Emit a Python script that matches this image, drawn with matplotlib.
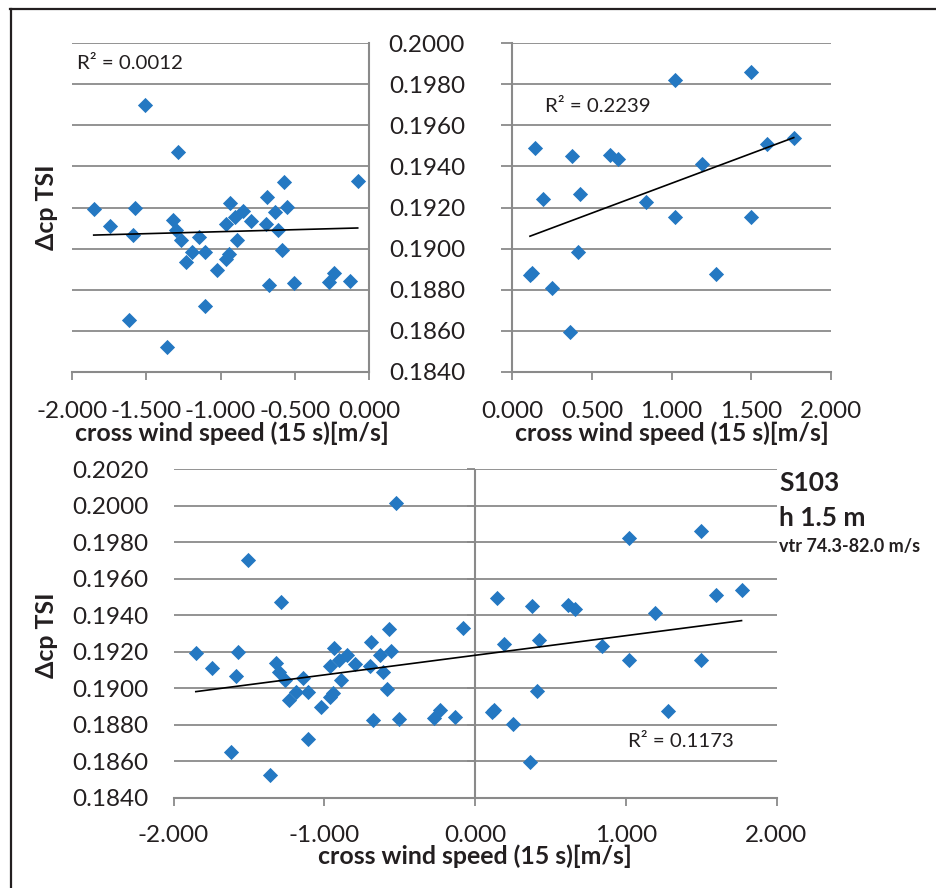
import numpy as np
import matplotlib
matplotlib.use('Agg')
import matplotlib.pyplot as plt
from matplotlib.lines import Line2D

# ---------------- data ----------------
neg_x = [-1.852, -1.742, -1.574, -1.586, -1.505, -1.617, -1.286, -1.317, -1.301,
         -1.263, -1.234, -1.189, -1.144, -1.106, -1.106, -1.359, -1.021, -0.963,
         -0.941, -0.963, -0.936, -0.903, -0.891, -0.851, -0.793, -0.690, -0.695,
         -0.677, -0.632, -0.572, -0.555, -0.612, -0.586, -0.505, -0.271, -0.235,
         -0.132, -0.078, -0.523]
neg_y = [0.19191, 0.19110, 0.19199, 0.19064, 0.19701, 0.18652, 0.19470, 0.19139, 0.19090,
         0.19042, 0.18933, 0.18981, 0.19055, 0.18981, 0.18720, 0.18522, 0.18895, 0.18949,
         0.18973, 0.19120, 0.19222, 0.19155, 0.19042, 0.19183, 0.19134, 0.19253, 0.19120,
         0.18824, 0.19180, 0.19326, 0.19201, 0.19090, 0.18993, 0.18830, 0.18837, 0.18882,
         0.18840, 0.19331, 0.20012]

pos_x = [0.111, 0.126, 0.145, 0.193, 0.249, 0.362, 0.375, 0.413, 0.427, 0.614,
         0.662, 0.840, 1.020, 1.024, 1.194, 1.277, 1.499, 1.502, 1.598, 1.768]
pos_y = [0.18869, 0.18882, 0.19492, 0.19241, 0.18806, 0.18595, 0.19451, 0.18983, 0.19266, 0.19456,
         0.19436, 0.19228, 0.19152, 0.19821, 0.19412, 0.18874, 0.19859, 0.19154, 0.19508, 0.19539]

xticks_neg = [-2.0, -1.5, -1.0, -0.5, 0.0]
xticks_pos = [0.0, 0.5, 1.0, 1.5, 2.0]
xticks_all = [-2.0, -1.0, 0.0, 1.0, 2.0]
yticks_top = [0.1840, 0.1860, 0.1880, 0.1900, 0.1920, 0.1940, 0.1960, 0.1980, 0.2000]
yticks_all = [0.1840, 0.1860, 0.1880, 0.1900, 0.1920, 0.1940, 0.1960, 0.1980, 0.2000, 0.2020]

r2_labels = ["R\u00b2 = 0.0012", "R\u00b2 = 0.2239", "R\u00b2 = 0.1173"]
xlabel = "cross wind speed (15 s)[m/s]"
ylabel = "\u0394cp TSI"
side_title = ["S103", "h 1.5 m", "vtr 74.3-82.0 m/s"]

# ---------------- style ----------------
FONT = ['Lato', 'DejaVu Sans']
plt.rcParams['font.family'] = FONT
TXT = '#231F20'
GRID = '#8A8A8A'
BLUE = '#2478C2'
TICK_FS = 17.5
LAB_FS = 17.9

W, H = 936, 888
fig = plt.figure(figsize=(W / 100, H / 100), dpi=100)


def box(l, t, r, b):
    return [l / W, 1 - b / H, (r - l) / W, (b - t) / H]


def base_style(ax, xlim, ylim, xt, yt, xpad):
    ax.set_xlim(*xlim)
    ax.set_ylim(*ylim)
    ax.set_xticks(xt)
    ax.set_xticklabels(["%.3f" % v for v in xt])
    ax.set_yticks(yt)
    ax.set_yticklabels(["%.4f" % v for v in yt])
    ax.grid(axis='y', color=GRID, lw=1.3)
    ax.grid(axis='x', visible=False)
    ax.set_axisbelow(True)
    for s in ax.spines.values():
        s.set_visible(False)
    ax.spines['bottom'].set_visible(True)
    ax.spines['bottom'].set_color(GRID)
    ax.spines['bottom'].set_linewidth(1.5)
    ax.tick_params(axis='x', direction='out', length=6, width=1.3, color=GRID,
                   pad=xpad, labelsize=TICK_FS, labelcolor=TXT)
    ax.tick_params(axis='y', labelsize=TICK_FS, labelcolor=TXT)
    ax.patch.set_alpha(0)


def scatter_trend(ax, x, y):
    # Excel-style: the trend line uses every point of the series,
    # points outside the value axis range are not drawn
    x = np.asarray(x)
    y = np.asarray(y)
    p = np.polyfit(x, y, 1)
    xs = np.array([x.min(), x.max()])
    lo, hi = ax.get_ylim()
    m = (y >= lo) & (y <= hi)
    ax.scatter(x[m], y[m], marker='D', s=60, color=BLUE, linewidths=0, zorder=3)
    ax.plot(xs, np.polyval(p, xs), color='black', lw=1.2, zorder=4)


# ---- top-left: negative cross wind ----
ax1 = fig.add_axes(box(71.7, 43.3, 369.3, 371.7))
base_style(ax1, (-2.0, 0.0), (0.1840, 0.2000), xticks_neg, yticks_top, 15)
ax1.spines['right'].set_visible(True)
ax1.spines['right'].set_color(GRID)
ax1.spines['right'].set_linewidth(1.5)
ax1.tick_params(axis='y', left=False, labelleft=False)
scatter_trend(ax1, neg_x, neg_y)
ax1.text(0.018, 0.937, r2_labels[0], transform=ax1.transAxes, ha='left', va='center',
         fontsize=14.7, color=TXT)
ax1.set_ylabel(ylabel, fontsize=LAB_FS, fontweight='bold', color=TXT)
ax1.yaxis.set_label_coords(-0.046, 0.5)
ax1.set_xlabel(xlabel, fontsize=LAB_FS, fontweight='bold', color=TXT, va='top')
ax1.xaxis.set_label_coords(0.539, -0.150)

# ---- top-right: positive cross wind ----
ax2 = fig.add_axes(box(512.3, 43.3, 830.7, 371.7))
base_style(ax2, (0.0, 2.0), (0.1840, 0.2000), xticks_pos, yticks_top, 15)
ax2.spines['left'].set_visible(True)
ax2.spines['left'].set_color(GRID)
ax2.spines['left'].set_linewidth(1.5)
ax2.tick_params(axis='y', direction='out', length=8, width=1.3, color=GRID, pad=26)
scatter_trend(ax2, pos_x, pos_y)
ax2.text(0.103, 0.809, r2_labels[1], transform=ax2.transAxes, ha='left', va='center',
         fontsize=14.7, color=TXT)
ax2.set_xlabel(xlabel, fontsize=LAB_FS, fontweight='bold', color=TXT, va='top')
ax2.xaxis.set_label_coords(0.502, -0.150)

# ---- bottom: all ----
all_x = neg_x + pos_x
all_y = neg_y + pos_y
ax3 = fig.add_axes(box(173.5, 469.0, 776.5, 797.7))
base_style(ax3, (-2.0, 2.0), (0.1840, 0.2020), xticks_all, yticks_all, 14)
ax3.tick_params(axis='y', length=0, pad=18)
ax3.axvline(0.0, color=GRID, lw=1.5, zorder=2)
ax3.plot(np.zeros(len(yticks_all)), yticks_all, ls='none', marker=0, markersize=6,
         mew=1.3, color=GRID, clip_on=False, zorder=2)
scatter_trend(ax3, all_x, all_y)
ax3.text(0.754, 0.171, r2_labels[2], transform=ax3.transAxes, ha='left', va='center',
         fontsize=14.7, color=TXT)
ax3.set_ylabel(ylabel, fontsize=LAB_FS, fontweight='bold', color=TXT)
ax3.yaxis.set_label_coords(-0.1915, 0.495)
ax3.set_xlabel(xlabel, fontsize=LAB_FS, fontweight='bold', color=TXT, va='top')
ax3.xaxis.set_label_coords(0.5, -0.143)

# side annotation
fig.text(779 / W, 1 - 483 / H, side_title[0], fontsize=19, fontweight='bold', color=TXT,
         ha='left', va='center')
fig.text(779 / W, 1 - 517.5 / H, side_title[1], fontsize=19, fontweight='bold', color=TXT,
         ha='left', va='center')
fig.text(779 / W, 1 - 546 / H, side_title[2], fontsize=13, fontweight='bold', color=TXT,
         ha='left', va='center')

# outer frame (only left and top edges are inside the image)
fig.add_artist(Line2D([10 / W, 1.0], [1 - 9.5 / H, 1 - 9.5 / H], color=TXT, lw=1.6,
                      transform=fig.transFigure))
fig.add_artist(Line2D([10.5 / W, 10.5 / W], [0.0, 1 - 9.5 / H], color=TXT, lw=1.6,
                      transform=fig.transFigure))

fig.savefig('out.png', dpi=100)
